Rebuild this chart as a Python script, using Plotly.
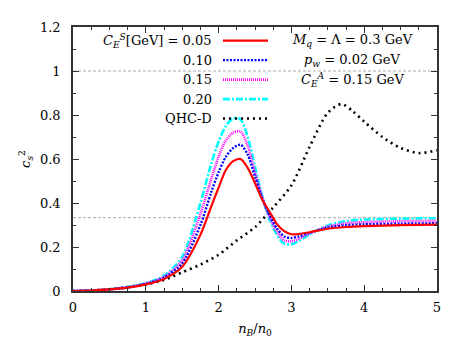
import plotly.graph_objects as go

# ---- data ----
x_vals = [0, 0.25, 0.5, 0.75, 1.0, 1.25, 1.5, 1.75, 1.9, 2.0, 2.1, 2.2, 2.3, 2.4, 2.5,
          2.6, 2.7, 2.8, 2.9, 3.0, 3.1, 3.25, 3.5, 3.75, 4.0, 4.5, 5.0]
red_005 = [0, 0.002, 0.007, 0.015, 0.030, 0.055, 0.11, 0.255, 0.385, 0.47, 0.55, 0.59, 0.60,
           0.56, 0.49, 0.415, 0.36, 0.305, 0.272, 0.258, 0.259, 0.267, 0.283, 0.291, 0.295, 0.299, 0.302]
blue_010 = [0, 0.002, 0.007, 0.016, 0.032, 0.060, 0.125, 0.30, 0.45, 0.54, 0.61, 0.65, 0.665,
            0.62, 0.52, 0.42, 0.345, 0.285, 0.248, 0.241, 0.248, 0.265, 0.288, 0.299, 0.303, 0.306, 0.308]
mag_015 = [0, 0.002, 0.008, 0.017, 0.034, 0.065, 0.14, 0.35, 0.51, 0.61, 0.685, 0.72, 0.725,
           0.66, 0.54, 0.425, 0.335, 0.27, 0.23, 0.226, 0.237, 0.262, 0.293, 0.308, 0.313, 0.317, 0.319]
cyan_020 = [0, 0.002, 0.008, 0.018, 0.036, 0.070, 0.155, 0.40, 0.58, 0.68, 0.75, 0.785, 0.78,
            0.70, 0.565, 0.43, 0.325, 0.255, 0.215, 0.212, 0.227, 0.258, 0.298, 0.318, 0.325, 0.329, 0.331]

x_qhc = [0, 0.25, 0.5, 0.75, 1.0, 1.25, 1.5, 1.75, 2.0, 2.25, 2.5, 2.75, 3.0, 3.25, 3.5,
         3.69, 3.85, 4.0, 4.25, 4.5, 4.75, 5.0]
qhc_d = [0, 0.003, 0.008, 0.018, 0.030, 0.050, 0.085, 0.12, 0.165, 0.23, 0.29, 0.38, 0.48,
         0.655, 0.81, 0.85, 0.815, 0.77, 0.70, 0.65, 0.627, 0.64]

x_ticks = [0, 1, 2, 3, 4, 5]
y_ticks = [0, 0.2, 0.4, 0.6, 0.8, 1.0, 1.2]
y_tick_text = ["0", "0.2", "0.4", "0.6", "0.8", "1", "1.2"]

labels = ["<i>C</i><sub><i>E</i></sub><sup><i>S</i></sup>[GeV] = 0.05", "0.10", "0.15", "0.20", "QHC-D"]

FONT = "DejaVu Serif"
FS = 13
series = [
    (x_vals, red_005, "#ff0000", "solid", 2.2),
    (x_vals, blue_010, "#0000ff", "2px,1.5px", 2.4),
    (x_vals, mag_015, "#ff00ff", "1px,1px", 2.6),
    (x_vals, cyan_020, "#00ffff", "7px,2px,2px,2px", 2.6),
    (x_qhc, qhc_d, "#000000", "2px,4px", 2.6),
]

fig = go.Figure()
for (xs, ys, col, dash, w), name in reversed(list(zip(series, labels))):
    fig.add_trace(go.Scatter(x=xs, y=ys, mode="lines", name=name,
                             line=dict(color=col, dash=dash, width=w, shape="spline", smoothing=0.8),
                             showlegend=False))

for yv in [1.0, 1/3]:
    fig.add_shape(type="line", xref="paper", x0=0, x1=1, yref="y", y0=yv, y1=yv,
                  line=dict(color="#aaaaaa", width=1, dash="3px,2px"), layer="below")

# target plot-area edges in window pixels (page body adds an 8px offset)
OFF = 8
L, R, T, B = 73, 437, 20, 291
def px(xp):
    return (xp - L) / (R - L)
def py(yp):
    return (B - yp) / (B - T)

rows = [34, 54, 74, 94, 114]
for (xs, ys, col, dash, w), name, ry in zip(series, labels, rows):
    fig.add_annotation(xref="paper", yref="paper", x=px(214), y=py(ry), text=name,
                       showarrow=False, xanchor="right", yanchor="middle",
                       font=dict(family=FONT, size=FS, color="black"))
    fig.add_shape(type="line", xref="paper", yref="paper", x0=px(223), x1=px(268),
                  y0=py(ry), y1=py(ry), line=dict(color=col, dash=dash, width=w))

info = ["<i>M</i><sub><i>q</i></sub> = Λ = 0.3 GeV",
        "<i>p</i><sub><i>w</i></sub> = 0.02 GeV",
        "<i>C</i><sub><i>E</i></sub><sup><i>A</i></sup> = 0.15 GeV"]
for txt, ry in zip(info, rows[:3]):
    fig.add_annotation(xref="paper", yref="paper", x=px(352), y=py(ry), text=txt,
                       showarrow=False, xanchor="center", yanchor="middle",
                       font=dict(family=FONT, size=FS, color="black"))

axis_common = dict(showline=True, linecolor="#333333", linewidth=1.5, mirror="allticks",
                   ticks="inside", ticklen=6, tickwidth=1, tickcolor="#333333",
                   showgrid=False, zeroline=False,
                   tickfont=dict(family=FONT, size=FS, color="black"))

fig.update_xaxes(range=[0, 5], tickvals=x_ticks, ticklabelstandoff=4,
                 minor=dict(dtick=0.25, ticks="inside", ticklen=3, tickcolor="#333333"),
                 title=dict(text="<i>n</i><sub><i>B</i></sub>/<i>n</i><sub>0</sub>",
                            font=dict(family=FONT, size=FS, color="black"), standoff=10),
                 **axis_common)
fig.update_yaxes(range=[0, 1.2], tickvals=y_ticks, ticktext=y_tick_text, ticklabelstandoff=8,
                 minor=dict(dtick=0.1, ticks="inside", ticklen=3, tickcolor="#333333"),
                 title=dict(text="<i>c</i><sub><i>s</i></sub><sup>2</sup>",
                            font=dict(family=FONT, size=FS, color="black"), standoff=6),
                 **axis_common)

fig.update_layout(width=469, height=347,
                  margin=dict(l=L - OFF, r=469 - R + OFF, t=T - OFF, b=347 - B + OFF),
                  plot_bgcolor="white", paper_bgcolor="white", showlegend=False,
                  font=dict(family=FONT))

fig.write_html("out.html")
